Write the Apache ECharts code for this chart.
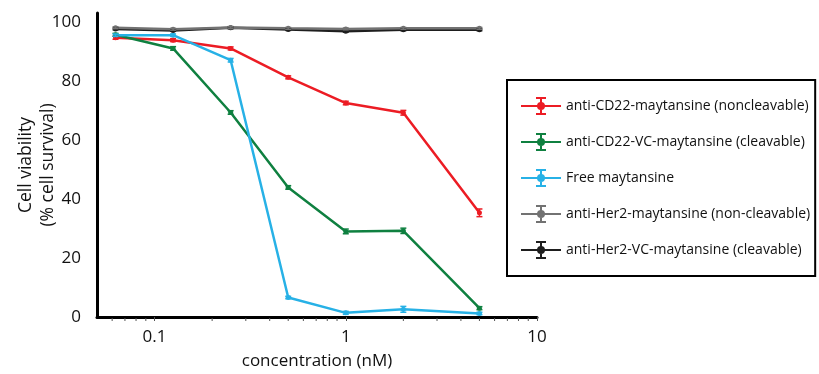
<!DOCTYPE html>
<html>
<head>
<meta charset="utf-8">
<script src="https://cdn.jsdelivr.net/npm/echarts@6/dist/echarts.min.js"></script>
<style>
  html, body { margin: 0; padding: 0; background: #fff; }
  #chart { width: 819px; height: 374px; }
</style>
</head>
<body>
<div id="chart"></div>
<script>
// concentrations (nM), 2-fold dilutions plus top dose
const concentrations = [0.0625, 0.125, 0.25, 0.5, 1, 2, 5];

const cd22Noncleavable = [94.6, 93.8, 91.0, 81.2, 72.5, 69.2, 35.3];
const cd22NoncleavableErr = [0.5, 0.5, 0.5, 0.5, 0.6, 0.8, 1.3];
const cd22Cleavable = [95.6, 91.0, 69.3, 43.9, 29.0, 29.2, 3.0];
const cd22CleavableErr = [0.5, 0.6, 0.6, 0.6, 0.8, 0.9, 0.5];
const freeMaytansine = [95.5, 95.5, 87.0, 6.6, 1.4, 2.6, 1.2];
const freeMaytansineErr = [0.4, 0.4, 0.6, 0.4, 0.5, 1.0, 0.4];
const her2Noncleavable = [98.0, 97.5, 98.1, 97.8, 97.6, 97.8, 97.8];
const her2NoncleavableErr = [0.3, 0.3, 0.3, 0.3, 0.3, 0.3, 0.3];
const her2Cleavable = [97.6, 97.1, 98.0, 97.4, 96.8, 97.3, 97.3];
const her2CleavableErr = [0.3, 0.3, 0.3, 0.3, 0.3, 0.3, 0.3];

const xTickLabels = ["0.1", "1", "10"];
const yTicks = [0, 20, 40, 60, 80, 100];
const minorTickValues = [0.06, 0.07, 0.08, 0.09, 0.2, 0.3, 0.4, 0.5, 0.6, 0.7, 0.8, 0.9,
  2, 3, 4, 5, 6, 7, 8, 9];

const FONT = "'Open Sans', 'Noto Sans', sans-serif";

const groups = [
  { name: "anti-CD22-maytansine (noncleavable)", color: "#ec1c24", y: cd22Noncleavable, err: cd22NoncleavableErr },
  { name: "anti-CD22-VC-maytansine (cleavable)", color: "#0f8040", y: cd22Cleavable, err: cd22CleavableErr },
  { name: "Free maytansine", color: "#27b1e6", y: freeMaytansine, err: freeMaytansineErr },
  { name: "anti-Her2-VC-maytansine (cleavable)", color: "#1e1e1e", y: her2Cleavable, err: her2CleavableErr },
  { name: "anti-Her2-maytansine (non-cleavable)", color: "#727272", y: her2Noncleavable, err: her2NoncleavableErr },
];
const legendOrder = [
  "anti-CD22-maytansine (noncleavable)",
  "anti-CD22-VC-maytansine (cleavable)",
  "Free maytansine",
  "anti-Her2-maytansine (non-cleavable)",
  "anti-Her2-VC-maytansine (cleavable)",
];

// legend glyph: line, error bar with caps, dot (all clockwise so it fills solid)
const errIcon = "path://M0,9H40V11H0Z M19,3H21V17H19Z M15,1H25V3H15Z M15,17H25V19H15Z " +
  "M16,10A4,4 0 1,1 24,10A4,4 0 1,1 16,10Z";

function errorBarSeries(g) {
  return {
    type: "custom",
    name: g.name,
    silent: true,
    z: 3,
    data: concentrations.map((c, i) => [c, g.y[i] - g.err[i], g.y[i] + g.err[i]]),
    renderItem: function (params, api) {
      const lo = api.coord([api.value(0), api.value(1)]);
      const hi = api.coord([api.value(0), api.value(2)]);
      const style = { stroke: g.color, lineWidth: 1.5 };
      return {
        type: "group",
        children: [
          { type: "line", shape: { x1: lo[0], y1: lo[1], x2: hi[0], y2: hi[1] }, style: style },
          { type: "line", shape: { x1: lo[0] - 3, y1: lo[1], x2: lo[0] + 3, y2: lo[1] }, style: style },
          { type: "line", shape: { x1: hi[0] - 3, y1: hi[1], x2: hi[0] + 3, y2: hi[1] }, style: style },
        ],
      };
    },
  };
}

const series = [];
groups.forEach((g) => {
  series.push({
    type: "line",
    name: g.name,
    data: concentrations.map((c, i) => [c, g.y[i]]),
    color: g.color,
    symbol: "circle",
    symbolSize: 5,
    lineStyle: { width: 2.5, color: g.color },
    itemStyle: { color: g.color },
    z: 2,
  });
  series.push(errorBarSeries(g));
});
// minor log ticks under the x axis
series.push({
  type: "custom",
  silent: true,
  data: minorTickValues.map((v) => [v, 0]),
  renderItem: function (params, api) {
    const p = api.coord([api.value(0), 0]);
    return {
      type: "line",
      shape: { x1: p[0], y1: p[1] + 1, x2: p[0], y2: p[1] + 4 },
      style: { stroke: "#555", lineWidth: 1 },
    };
  },
});

const chart = echarts.init(document.getElementById("chart"));
chart.setOption({
  animation: false,
  backgroundColor: "#fff",
  textStyle: { fontFamily: FONT },
  grid: { left: 97, right: 282, top: 13, bottom: 57, containLabel: false, outerBoundsMode: "none" },
  xAxis: {
    type: "log",
    logBase: 10,
    min: 0.05,
    max: 10,
    name: "concentration (nM)",
    nameLocation: "middle",
    nameGap: 36,
    nameMoveOverlap: false,
    nameTextStyle: { fontSize: 17, color: "#111", fontFamily: FONT },
    axisLine: { lineStyle: { color: "#000", width: 3 } },
    axisTick: { show: true, inside: false, length: 4, lineStyle: { color: "#555", width: 1 } },
    splitLine: { show: false },
    axisLabel: {
      fontSize: 17,
      color: "#111",
      margin: 12,
      showMinLabel: false,
      formatter: function (v) {
        const s = String(+v.toPrecision(3));
        return xTickLabels.indexOf(s) >= 0 ? s : "";
      },
    },
  },
  yAxis: {
    type: "value",
    min: 0,
    max: 103,
    interval: 20,
    name: "Cell viability\n(% cell survival)",
    nameLocation: "middle",
    nameGap: 38,
    nameMoveOverlap: false,
    nameRotate: 90,
    nameTextStyle: { fontSize: 17.5, color: "#111", lineHeight: 22, fontFamily: FONT },
    axisLine: { show: true, lineStyle: { color: "#000", width: 3 } },
    axisTick: { show: false },
    splitLine: { show: false },
    axisLabel: {
      fontSize: 17,
      color: "#111",
      margin: 16,
      formatter: function (v) {
        return yTicks.indexOf(v) >= 0 ? String(v) : "";
      },
    },
  },
  legend: {
    data: legendOrder,
    orient: "vertical",
    left: 507,
    top: 80,
    padding: [16, 5, 16, 14],
    itemWidth: 40,
    itemHeight: 20,
    itemGap: 16,
    icon: errIcon,
    borderColor: "#000",
    borderWidth: 2,
    textStyle: { fontSize: 14, color: "#111", fontFamily: FONT, lineHeight: 20 },
  },
  series: series,
});
</script>
</body>
</html>
